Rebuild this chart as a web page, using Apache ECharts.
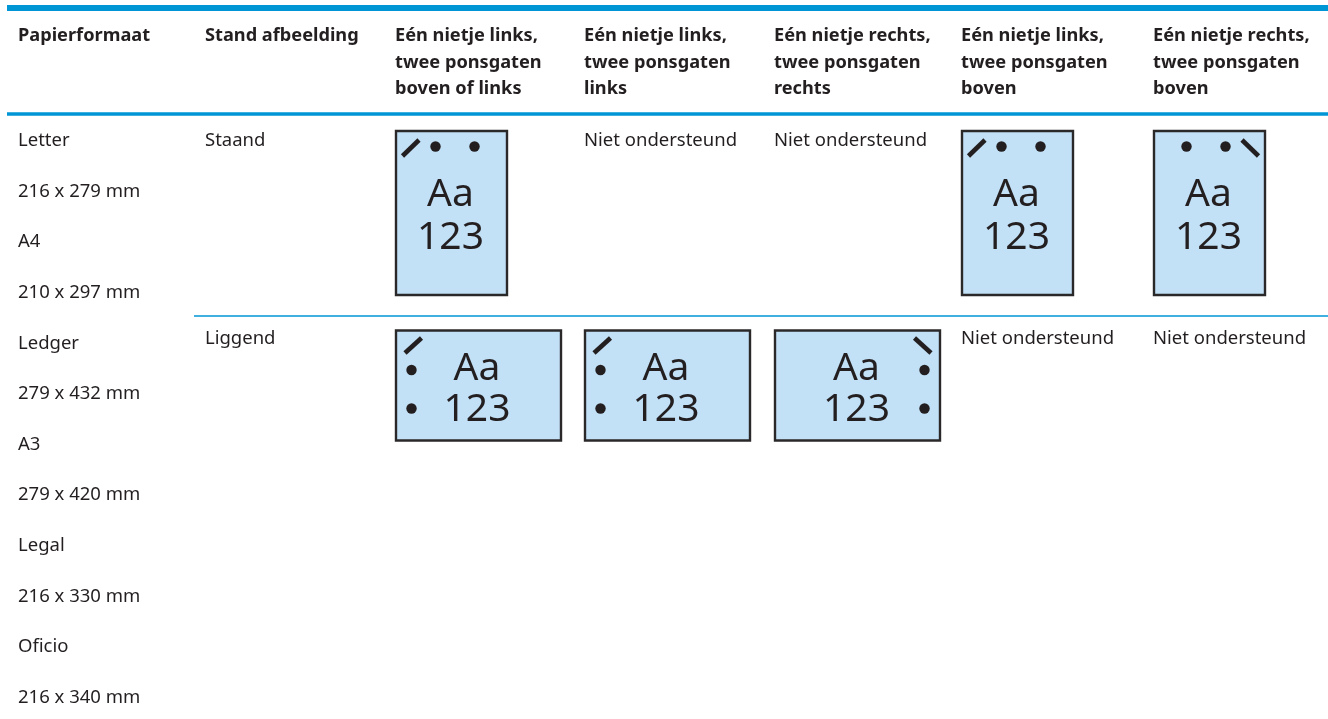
<!DOCTYPE html>
<html><head><meta charset="utf-8">
<style>html,body{margin:0;padding:0;background:#fff}#c{width:1328px;height:719px}</style>
<script src="https://cdn.jsdelivr.net/npm/echarts@6/dist/echarts.min.js"></script>
</head><body><div id="c"></div>
<script>
const columnHeaders = [
  ['Papierformaat'],
  ['Stand afbeelding'],
  ['Eén nietje links,','twee ponsgaten','boven of links'],
  ['Eén nietje links,','twee ponsgaten','links'],
  ['Eén nietje rechts,','twee ponsgaten','rechts'],
  ['Eén nietje links,','twee ponsgaten','boven'],
  ['Eén nietje rechts,','twee ponsgaten','boven']
];
const paperFormats = ['Letter','216 x 279 mm','A4','210 x 297 mm','Ledger','279 x 432 mm','A3','279 x 420 mm','Legal','216 x 330 mm','Oficio','216 x 340 mm'];
const orientations = ['Staand','Liggend'];
const notSupported = 'Niet ondersteund';
const sampleLines = ['Aa','123'];
// per orientation, per option column: '' = not supported, else staple corner
const portraitOptions  = ['left','','','left','right'];
const landscapeOptions = ['left','left','right','',''];

const FONT = '"Noto Sans"';
const columnLeft = [18,205,395,584,774,961,1153];
const INK = '#231f20', BLUE = '#0096d6';

function textEl(api,x,y,s,size,weight,align){
  const p = api.coord([x,y]);
  return {type:'text',style:{x:p[0],y:p[1],text:s,font:(weight||'normal')+' '+size+'px '+FONT,fill:INK,align:align||'left',verticalAlign:'middle'}};
}
function rule(api,x1,x2,y,w,color){
  const a=api.coord([x1,y]),b=api.coord([x2,y]);
  return {type:'line',shape:{x1:a[0],y1:a[1],x2:b[0],y2:b[1]},style:{stroke:color,lineWidth:w}};
}
function icon(api,kind,side,left,top){
  const w = kind==='portrait'?113:167, h = kind==='portrait'?166:112;
  const L = api.coord([left,top]);
  const ch=[{type:'rect',shape:{x:L[0]+1,y:L[1]+1,width:w-2,height:h-2},style:{fill:'#c2e0f6',stroke:'#2b2829',lineWidth:2.4}}];
  const line=(a,b,c,d)=>ch.push({type:'line',shape:{x1:L[0]+a,y1:L[1]+b,x2:L[0]+c,y2:L[1]+d},style:{stroke:INK,lineWidth:4.6}});
  const dot=(a,b)=>ch.push({type:'circle',shape:{cx:L[0]+a,cy:L[1]+b,r:5.2},style:{fill:INK}});
  const m=(a)=>side==='right'?w-a:a;
  if(kind==='portrait'){
    line(m(7.5),26,m(24),10); dot(m(40.5),16.5); dot(m(79.5),16.5);
    ch.push(textEl(api,left+w/2-1,top+65,sampleLines[0],39,'normal','center'));
    ch.push(textEl(api,left+w/2-1,top+107.5,sampleLines[1],39,'normal','center'));
  } else {
    line(m(10),23.5,m(26.5),8.5); dot(m(16.5),40.5); dot(m(16.5),79);
    const dx = side==='right'?-1:-1.5;
    ch.push(textEl(api,left+w/2+dx,top+39,sampleLines[0],39,'normal','center'));
    ch.push(textEl(api,left+w/2+dx,top+80.5,sampleLines[1],39,'normal','center'));
  }
  return {type:'group',children:ch};
}
const renderRules=(p,api)=>({type:'group',children:[
  rule(api,7,1328,8,6,BLUE),
  rule(api,7,1328,114,3.5,BLUE),
  rule(api,194,1328,316,1.5,BLUE)
]});
const renderText=(p,api)=>{
  const ch=[];
  const hy=[35.5,62.5,88.5];
  columnHeaders.forEach((ls,c)=>ls.forEach((s,i)=>ch.push(textEl(api,columnLeft[c],hy[i],s,18.2,'bold'))));
  paperFormats.forEach((s,i)=>ch.push(textEl(api,columnLeft[0],141+i*50.6,s,18.5)));
  orientations.forEach((s,i)=>ch.push(textEl(api,columnLeft[1],i?339:141,s,18.5)));
  [portraitOptions,landscapeOptions].forEach((row,r)=>row.forEach((v,c)=>{
    if(!v) ch.push(textEl(api,columnLeft[c+2],r?339:141,notSupported,18.5));
  }));
  return {type:'group',children:ch};
};
const renderIcons=(p,api)=>{
  const ch=[];
  portraitOptions.forEach((v,c)=>{ if(v) ch.push(icon(api,'portrait',v,columnLeft[c+2],130)); });
  landscapeOptions.forEach((v,c)=>{ if(v) ch.push(icon(api,'landscape',v,columnLeft[c+2],329.5)); });
  return {type:'group',children:ch};
};
const chart = echarts.init(document.getElementById('c'),null,{renderer:'canvas'});
chart.setOption({
  animation:false,
  grid:{left:0,top:0,right:0,bottom:0},
  xAxis:{type:'value',min:0,max:1328,show:false},
  yAxis:{type:'value',min:0,max:719,inverse:true,show:false},
  series:[
    {type:'custom',data:[[0,0]],renderItem:renderRules,silent:true,clip:false},
    {type:'custom',data:[[0,0]],renderItem:renderText,silent:true,clip:false},
    {type:'custom',data:[[0,0]],renderItem:renderIcons,silent:true,clip:false}
  ]
});
</script></body></html>
